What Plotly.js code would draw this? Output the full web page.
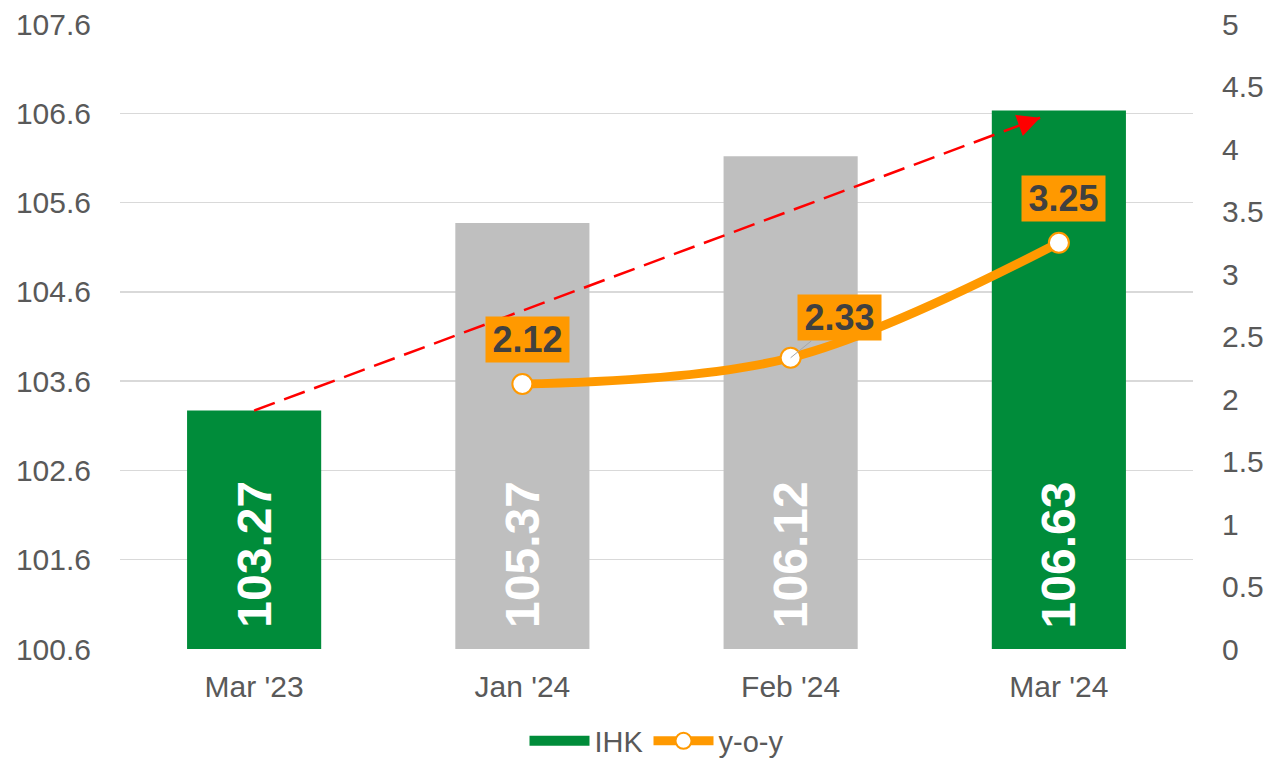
<!DOCTYPE html>
<html>
<head>
<meta charset="utf-8">
<script src="https://cdn.plot.ly/plotly-3.0.1.min.js"></script>
<style>html,body{margin:0;padding:0;background:#fff;}#chart{width:1268px;height:763px;}</style>
</head>
<body>
<div id="chart"></div>
<script>
// ---- data ----
const categories = ["Mar '23", "Jan '24", "Feb '24", "Mar '24"];
const ihkValues = [103.27, 105.37, 106.12, 106.63];
const barColors = ["#008C3A", "#BFBFBF", "#BFBFBF", "#008C3A"];
const yoyCategories = ["Jan '24", "Feb '24", "Mar '24"];
const yoyValues = [2.12, 2.33, 3.25];
const leftTicks = [100.6, 101.6, 102.6, 103.6, 104.6, 105.6, 106.6, 107.6];
// trend arrow endpoints (category index, IHK value)
const trendStart = [0, 103.27];
const trendEnd = [2.93, 106.55];

const ORANGE = "#FF9900";
const FONT = "Liberation Sans, Arial, sans-serif";
const Y_MIN = 100.6, Y_MAX = 107.6;

const traces = [
  {
    type: "bar",
    x: categories,
    y: ihkValues,
    base: 0,
    name: "IHK",
    showlegend: false,
    marker: { color: barColors },
    width: 0.5,
    hoverinfo: "x+y"
  },
  {
    type: "scatter",
    x: [null],
    y: [null],
    mode: "lines",
    name: "IHK",
    line: { color: "#008C3A", width: 17 },
    hoverinfo: "skip"
  },
  {
    type: "scatter",
    x: yoyCategories,
    y: yoyValues,
    yaxis: "y2",
    name: "y-o-y",
    mode: "lines+markers",
    line: { color: ORANGE, width: 9, shape: "spline", smoothing: 1 },
    marker: { size: 20, color: "#FFFFFF", line: { color: ORANGE, width: 2 } },
    cliponaxis: false
  }
];

// value labels inside the bars (rotated)
const annotations = ihkValues.map((v, i) => ({
  x: categories[i], y: Y_MIN, xref: "x", yref: "y",
  text: v.toFixed(2), textangle: -90,
  showarrow: false, xanchor: "center", yanchor: "bottom", yshift: 19,
  font: { family: FONT, size: 48, color: "#FFFFFF", weight: "bold" }
}));

const labelOffsets = [[5, -45, false], [49, -40, true], [5, -44, false]];
yoyValues.forEach((v, i) => {
  const o = labelOffsets[i];
  const a = {
    x: yoyCategories[i], y: v, xref: "x", yref: "y2",
    text: v.toFixed(2),
    font: { family: FONT, size: 36, color: "#404040", weight: "bold" },
    bgcolor: ORANGE, borderpad: 2, width: 79, height: 41
  };
  if (o[2]) {
    Object.assign(a, { showarrow: true, ax: o[0], ay: o[1], arrowhead: 0, arrowwidth: 1, arrowcolor: "#A6A6A6", standoff: 0 });
  } else {
    Object.assign(a, { showarrow: false, xshift: o[0], yshift: -o[1] });
  }
  annotations.push(a);
});
// arrowhead of trend line
annotations.push({
  x: trendEnd[0], y: trendEnd[1], xref: "x", yref: "y",
  text: "", showarrow: true, ax: -22, ay: 8,
  arrowhead: 2, arrowsize: 1.8, arrowwidth: 2.5, arrowcolor: "#FF0000"
});

const layout = {
  width: 1268, height: 763,
  margin: { l: 120, r: 75, t: 24, b: 114, autoexpand: false },
  paper_bgcolor: "#FFFFFF", plot_bgcolor: "#FFFFFF",
  font: { family: FONT, color: "#595959", size: 30 },
  showlegend: true,
  legend: {
    orientation: "h", x: 0.5, xanchor: "center", xref: "paper",
    yref: "container", y: 22 / 763, yanchor: "middle",
    font: { family: FONT, size: 29, color: "#595959" },
    itemwidth: 60, tracegroupgap: 0
  },
  xaxis: {
    type: "category",
    categoryarray: categories, categoryorder: "array",
    range: [-0.5, 3.5],
    showgrid: false, showline: false, zeroline: false,
    ticks: "", ticklabelstandoff: 17,
    tickfont: { family: FONT, size: 30, color: "#595959" }
  },
  yaxis: {
    range: [Y_MIN, Y_MAX],
    tickmode: "array", tickvals: leftTicks, ticktext: leftTicks.map(v => v.toFixed(1)),
    showgrid: true, gridcolor: "#D9D9D9", gridwidth: 1.5,
    zeroline: false, showline: false, ticks: "",
    ticklabelstandoff: 28,
    tickfont: { family: FONT, size: 30, color: "#595959" }
  },
  yaxis2: {
    overlaying: "y", side: "right",
    range: [0, 5], dtick: 0.5, tick0: 0,
    showgrid: false, zeroline: false, showline: false, ticks: "",
    ticklabelstandoff: 28,
    tickfont: { family: FONT, size: 30, color: "#595959" }
  },
  shapes: [
    {
      type: "line", xref: "x", yref: "y", layer: "above",
      x0: trendStart[0], y0: trendStart[1], x1: trendEnd[0], y1: trendEnd[1],
      line: { color: "#FF0000", width: 2.5, dash: "22px,10px" }
    }
  ],
  annotations: annotations,
  bargap: 0.5
};

Plotly.newPlot("chart", traces, layout, { displayModeBar: false, staticPlot: true });
</script>
</body>
</html>
